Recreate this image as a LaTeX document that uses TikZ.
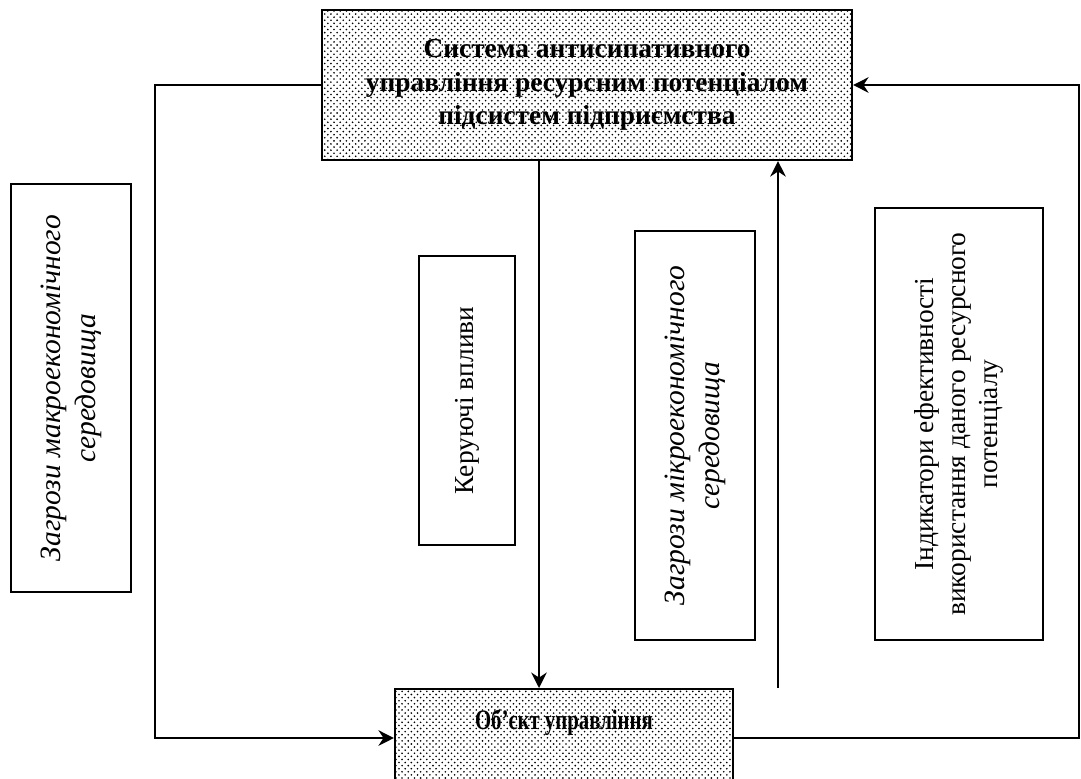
\documentclass[tikz,border=0pt]{standalone}
\usepackage{fontspec}
\setmainfont{Liberation Serif}
\newfontfamily\narrowserif[FakeStretch=0.74]{Liberation Serif}
\usetikzlibrary{patterns,arrows.meta}

\pgfdeclarepatternformonly{smalldots}{\pgfqpoint{-1pt}{-1pt}}{\pgfqpoint{5pt}{5pt}}{\pgfqpoint{4.4pt}{4.4pt}}%
{
    \pgfpathcircle{\pgfqpoint{0pt}{0pt}}{.65pt}
    \pgfpathcircle{\pgfqpoint{2.2pt}{2.2pt}}{.65pt}
    \pgfusepath{fill}
}

\tikzset{
    mainbox/.style={draw, line width=1.5pt, pattern=smalldots, align=center,
        font=\bfseries\fontsize{19.5}{24}\selectfont},
    sidebox/.style={draw, line width=1.3pt, rotate=90, align=center,
        font=\fontsize{19.5}{23}\selectfont},
    threat/.style={sidebox, font=\itshape\fontsize{21}{25}\selectfont},
    link/.style={line width=1.5pt, -{Stealth[length=11pt, width=11pt]}}
}

\begin{document}
\begin{tikzpicture}
    \useasboundingbox (0,0) rectangle (27.025,-19.45);
    \clip (0,0) rectangle (27.025,-19.45);

    % control system and object
    \node[mainbox, minimum width=13.25cm, minimum height=3.75cm] (sys) at (14.675,-2.125)
        {Система антисипативного\\управління ресурсним потенціалом\\підсистем підприємства};
    \node[mainbox, anchor=north, minimum width=8.45cm, inner ysep=0.25cm,
        text height=0.75cm, text depth=2.2cm, font=\narrowserif\bfseries\fontsize{20}{24}\selectfont] (obj) at (14.1,-17.2)
        {Об’єкт управління};

    % side blocks
    \node[threat, minimum width=10.2cm, minimum height=3cm] (macro) at (1.775,-9.7)
        {Загрози макроекономічного\\середовища};
    \node[sidebox, minimum width=7.225cm, minimum height=2.4cm] (ctrl) at (11.675,-10.0125)
        {Керуючі впливи};
    \node[threat, minimum width=10.225cm, minimum height=3cm] (micro) at (17.375,-10.8875)
        {Загрози мікроекономічного\\середовища};
    \node[sidebox, minimum width=10.8cm, minimum height=4.2cm] (ind) at (23.975,-10.6)
        {Індикатори ефективності\\використання даного ресурсного\\потенціалу};

    % connectors
    \coordinate (lturn) at (3.875,-18.45);
    \coordinate (rturn) at (26.975,-18.45);
    \coordinate (down) at (13.475,0);
    \coordinate (up) at (19.45,0);
    \draw[link] (sys.west) -| (lturn) -- (lturn -| obj.west);
    \draw[link] (rturn -| obj.east) -- (rturn) |- (sys.east);
    \draw[link] (down |- sys.south) -- (down |- obj.north);
    \draw[link] (up |- obj.north) -- (up |- sys.south);
\end{tikzpicture}
\end{document}
